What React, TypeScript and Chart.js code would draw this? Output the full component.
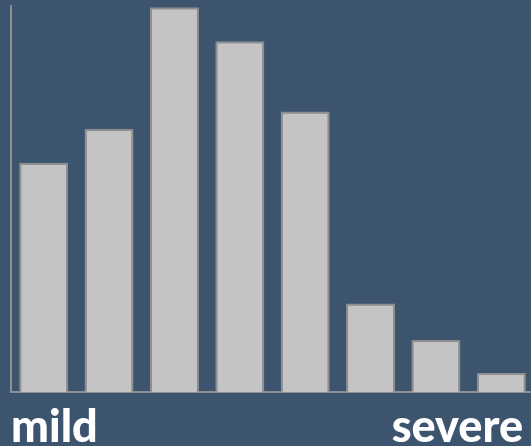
import React, { useEffect, useRef } from "react";
import { Chart, registerables } from "chart.js";

Chart.register(...registerables);

const categories = ["1", "2", "3", "4", "5", "6", "7", "8"];
const values = [59.4, 68.2, 99.7, 90.9, 72.7, 22.9, 13.5, 4.9];
const leftLabel = "mild";
const rightLabel = "severe";

const BG = "#3d546f";

export default function App() {
  const ref = useRef<HTMLCanvasElement>(null);
  useEffect(() => {
    document.body.style.margin = "0";
    const chart = new Chart(ref.current!, {
      type: "bar",
      data: {
        labels: categories,
        datasets: [
          {
            data: values,
            backgroundColor: "#c4c4c4",
            borderColor: "#8f8f8f",
            borderWidth: 2,
            barPercentage: 0.75,
            categoryPercentage: 1,
          },
        ],
      },
      options: {
        animation: false,
        responsive: true,
        maintainAspectRatio: false,
        layout: { padding: { left: 3, top: 6, right: 0, bottom: 46 } },
        plugins: { legend: { display: false }, tooltip: { enabled: false } },
        scales: {
          x: {
            grid: { display: false },
            ticks: { display: false },
            border: { display: true, color: "#8f8f8f", width: 2 },
          },
          y: {
            min: 0,
            max: 100,
            grid: { display: false },
            ticks: { display: false },
            border: { display: true, color: "#8f8f8f", width: 2 },
          },
        },
      },
    });
    return () => chart.destroy();
  }, []);

  const labelStyle: React.CSSProperties = {
    position: "absolute",
    top: 400,
    fontFamily: "Lato, 'Open Sans', sans-serif",
    fontWeight: 900,
    fontSize: 45,
    color: "#ffffff",
    lineHeight: "50px",
  };

  return (
    <div style={{ position: "relative", width: 531, height: 446, background: BG, overflow: "hidden" }}>
      <div style={{ position: "absolute", left: 0, top: 0, width: 534, height: 446 }}>
        <canvas ref={ref} />
      </div>
      <div style={{ ...labelStyle, left: 11 }}>{leftLabel}</div>
      <div style={{ ...labelStyle, right: 8 }}>{rightLabel}</div>
    </div>
  );
}
